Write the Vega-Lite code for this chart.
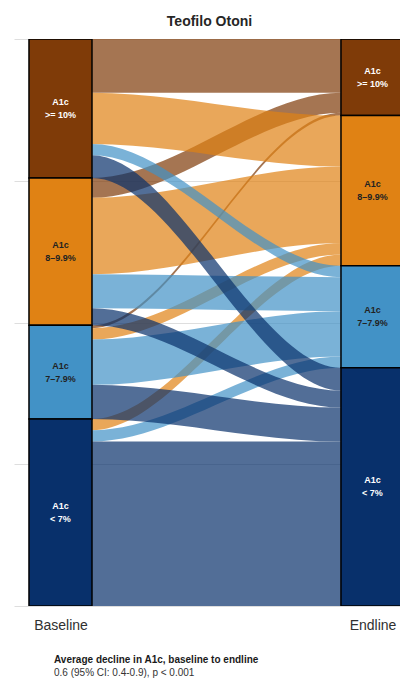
{
  "$schema": "https://vega.github.io/schema/vega-lite/v6.json",
  "padding": {"left": 14, "top": 15, "right": 0, "bottom": 0},
  "config": {
    "font": "Liberation Sans",
    "view": {"stroke": null}
  },
  "datasets": {
    "strata": [
      {"stratum": ">= 10%", "label": "A1c\n>= 10%", "time": 1, "rank": 1, "n": 49},
      {"stratum": "8–9.9%", "label": "A1c\n8–9.9%", "time": 1, "rank": 2, "n": 52},
      {"stratum": "7–7.9%", "label": "A1c\n7–7.9%", "time": 1, "rank": 3, "n": 33},
      {"stratum": "< 7%", "label": "A1c\n< 7%", "time": 1, "rank": 4, "n": 66},
      {"stratum": ">= 10%", "label": "A1c\n>= 10%", "time": 2, "rank": 1, "n": 27},
      {"stratum": "8–9.9%", "label": "A1c\n8–9.9%", "time": 2, "rank": 2, "n": 53},
      {"stratum": "7–7.9%", "label": "A1c\n7–7.9%", "time": 2, "rank": 3, "n": 36},
      {"stratum": "< 7%", "label": "A1c\n< 7%", "time": 2, "rank": 4, "n": 84}
    ],
    "flows": [
      {"from": ">= 10%", "to": ">= 10%", "n": 19, "time": 1, "rank": 1},
      {"from": ">= 10%", "to": ">= 10%", "n": 19, "time": 1.1, "rank": 1},
      {"from": ">= 10%", "to": ">= 10%", "n": 19, "time": 1.9, "rank": 1},
      {"from": ">= 10%", "to": ">= 10%", "n": 19, "time": 2, "rank": 1},
      {"from": "8–9.9%", "to": ">= 10%", "n": 7, "time": 1, "rank": 5},
      {"from": "8–9.9%", "to": ">= 10%", "n": 7, "time": 1.1, "rank": 5},
      {"from": "8–9.9%", "to": ">= 10%", "n": 7, "time": 1.9, "rank": 2},
      {"from": "8–9.9%", "to": ">= 10%", "n": 7, "time": 2, "rank": 2},
      {"from": "7–7.9%", "to": ">= 10%", "n": 1, "time": 1, "rank": 9},
      {"from": "7–7.9%", "to": ">= 10%", "n": 1, "time": 1.1, "rank": 9},
      {"from": "7–7.9%", "to": ">= 10%", "n": 1, "time": 1.9, "rank": 3},
      {"from": "7–7.9%", "to": ">= 10%", "n": 1, "time": 2, "rank": 3},
      {"from": ">= 10%", "to": "8–9.9%", "n": 18, "time": 1, "rank": 2},
      {"from": ">= 10%", "to": "8–9.9%", "n": 18, "time": 1.1, "rank": 2},
      {"from": ">= 10%", "to": "8–9.9%", "n": 18, "time": 1.9, "rank": 4},
      {"from": ">= 10%", "to": "8–9.9%", "n": 18, "time": 2, "rank": 4},
      {"from": "8–9.9%", "to": "8–9.9%", "n": 27, "time": 1, "rank": 6},
      {"from": "8–9.9%", "to": "8–9.9%", "n": 27, "time": 1.1, "rank": 6},
      {"from": "8–9.9%", "to": "8–9.9%", "n": 27, "time": 1.9, "rank": 5},
      {"from": "8–9.9%", "to": "8–9.9%", "n": 27, "time": 2, "rank": 5},
      {"from": "7–7.9%", "to": "8–9.9%", "n": 4, "time": 1, "rank": 10},
      {"from": "7–7.9%", "to": "8–9.9%", "n": 4, "time": 1.1, "rank": 10},
      {"from": "7–7.9%", "to": "8–9.9%", "n": 4, "time": 1.9, "rank": 6},
      {"from": "7–7.9%", "to": "8–9.9%", "n": 4, "time": 2, "rank": 6},
      {"from": "< 7%", "to": "8–9.9%", "n": 4, "time": 1, "rank": 13},
      {"from": "< 7%", "to": "8–9.9%", "n": 4, "time": 1.1, "rank": 13},
      {"from": "< 7%", "to": "8–9.9%", "n": 4, "time": 1.9, "rank": 7},
      {"from": "< 7%", "to": "8–9.9%", "n": 4, "time": 2, "rank": 7},
      {"from": ">= 10%", "to": "7–7.9%", "n": 4, "time": 1, "rank": 3},
      {"from": ">= 10%", "to": "7–7.9%", "n": 4, "time": 1.1, "rank": 3},
      {"from": ">= 10%", "to": "7–7.9%", "n": 4, "time": 1.9, "rank": 8},
      {"from": ">= 10%", "to": "7–7.9%", "n": 4, "time": 2, "rank": 8},
      {"from": "8–9.9%", "to": "7–7.9%", "n": 12, "time": 1, "rank": 7},
      {"from": "8–9.9%", "to": "7–7.9%", "n": 12, "time": 1.1, "rank": 7},
      {"from": "8–9.9%", "to": "7–7.9%", "n": 12, "time": 1.9, "rank": 9},
      {"from": "8–9.9%", "to": "7–7.9%", "n": 12, "time": 2, "rank": 9},
      {"from": "7–7.9%", "to": "7–7.9%", "n": 16, "time": 1, "rank": 11},
      {"from": "7–7.9%", "to": "7–7.9%", "n": 16, "time": 1.1, "rank": 11},
      {"from": "7–7.9%", "to": "7–7.9%", "n": 16, "time": 1.9, "rank": 10},
      {"from": "7–7.9%", "to": "7–7.9%", "n": 16, "time": 2, "rank": 10},
      {"from": "< 7%", "to": "7–7.9%", "n": 4, "time": 1, "rank": 14},
      {"from": "< 7%", "to": "7–7.9%", "n": 4, "time": 1.1, "rank": 14},
      {"from": "< 7%", "to": "7–7.9%", "n": 4, "time": 1.9, "rank": 11},
      {"from": "< 7%", "to": "7–7.9%", "n": 4, "time": 2, "rank": 11},
      {"from": ">= 10%", "to": "< 7%", "n": 8, "time": 1, "rank": 4},
      {"from": ">= 10%", "to": "< 7%", "n": 8, "time": 1.1, "rank": 4},
      {"from": ">= 10%", "to": "< 7%", "n": 8, "time": 1.9, "rank": 12},
      {"from": ">= 10%", "to": "< 7%", "n": 8, "time": 2, "rank": 12},
      {"from": "8–9.9%", "to": "< 7%", "n": 6, "time": 1, "rank": 8},
      {"from": "8–9.9%", "to": "< 7%", "n": 6, "time": 1.1, "rank": 8},
      {"from": "8–9.9%", "to": "< 7%", "n": 6, "time": 1.9, "rank": 13},
      {"from": "8–9.9%", "to": "< 7%", "n": 6, "time": 2, "rank": 13},
      {"from": "7–7.9%", "to": "< 7%", "n": 12, "time": 1, "rank": 12},
      {"from": "7–7.9%", "to": "< 7%", "n": 12, "time": 1.1, "rank": 12},
      {"from": "7–7.9%", "to": "< 7%", "n": 12, "time": 1.9, "rank": 14},
      {"from": "7–7.9%", "to": "< 7%", "n": 12, "time": 2, "rank": 14},
      {"from": "< 7%", "to": "< 7%", "n": 58, "time": 1, "rank": 15},
      {"from": "< 7%", "to": "< 7%", "n": 58, "time": 1.1, "rank": 15},
      {"from": "< 7%", "to": "< 7%", "n": 58, "time": 1.9, "rank": 15},
      {"from": "< 7%", "to": "< 7%", "n": 58, "time": 2, "rank": 15}
    ]
  },
  "title": {
    "text": "Average decline in A1c, baseline to endline",
    "subtitle": "0.6 (95% CI: 0.4-0.9), p < 0.001",
    "orient": "bottom",
    "anchor": "start",
    "dx": 40,
    "offset": 23,
    "baseline": "top",
    "font": "Liberation Sans",
    "fontSize": 10,
    "fontWeight": "bold",
    "color": "#1a1a1a",
    "subtitleFont": "Liberation Sans",
    "subtitleFontSize": 10,
    "subtitleColor": "#333333",
    "subtitlePadding": 3
  },
  "vconcat": [
    {
      "title": {
        "text": "Teofilo Otoni",
        "anchor": "middle",
        "fontSize": 14,
        "fontWeight": "bold",
        "offset": -1,
        "baseline": "alphabetic",
        "dx": 2.5,
        "color": "#262626",
        "font": "Liberation Sans"
      },
      "width": 386,
      "height": 567,
      "layer": [
        {
          "data": {"name": "flows"},
          "transform": [
            {"stack": "n", "groupby": ["time"], "sort": [{"field": "rank", "order": "ascending"}], "as": ["y0", "y1"]}
          ],
          "mark": {"type": "area", "interpolate": "monotone", "opacity": 0.7},
          "encoding": {
            "x": {
              "field": "time",
              "type": "quantitative",
              "scale": {"domain": [0.851, 2.0882], "nice": false, "zero": false, "padding": 0},
              "axis": {
                "values": [1, 2],
                "labelExpr": "datum.value == 1 ? 'Baseline' : 'Endline'",
                "title": null,
                "grid": false,
                "ticks": false,
                "domain": false,
                "labelFontSize": 14,
                "labelColor": "#303030",
                "labelPadding": 12,
                "labelFont": "Liberation Sans",
                "minExtent": 0
              }
            },
            "y": {
              "field": "y0",
              "type": "quantitative",
              "scale": {"domain": [0, 200], "reverse": true, "nice": false, "padding": 0},
              "axis": {
                "values": [0, 50, 100, 150, 200],
                "grid": true,
                "gridColor": "#dedede",
                "gridWidth": 1,
                "labels": false,
                "ticks": false,
                "domain": false,
                "title": null,
                "minExtent": 0
              }
            },
            "y2": {"field": "y1"},
            "detail": [{"field": "from"}, {"field": "to"}],
            "color": {
              "field": "to",
              "type": "nominal",
              "scale": {
                "domain": [">= 10%", "8–9.9%", "7–7.9%", "< 7%"],
                "range": ["#7F3B08", "#E08214", "#4292C6", "#08306B"]
              },
              "legend": null
            }
          }
        },
        {
          "data": {"name": "strata"},
          "mark": {"type": "bar", "width": 63, "stroke": "#000000", "strokeWidth": 1.5, "clip": true},
          "encoding": {
            "x": {"field": "time", "type": "quantitative"},
            "y": {"field": "n", "type": "quantitative", "stack": "zero"},
            "order": {"field": "rank", "type": "quantitative"},
            "color": {"field": "stratum", "type": "nominal", "legend": null}
          }
        },
        {
          "data": {"name": "strata"},
          "mark": {"type": "text", "fontSize": 9, "fontWeight": "bold", "lineBreak": "\n", "lineHeight": 13, "dy": -6.5, "font": "Liberation Sans"},
          "encoding": {
            "x": {"field": "time", "type": "quantitative"},
            "y": {"field": "n", "type": "quantitative", "stack": "zero", "bandPosition": 0.5},
            "detail": {"field": "stratum"},
            "order": {"field": "rank", "type": "quantitative"},
            "text": {"field": "label"},
            "color": {
              "condition": {"test": "datum.stratum === '>= 10%' || datum.stratum === '< 7%'", "value": "#ffffff"},
              "value": "#222222"
            }
          }
        }
      ]
    }
  ]
}
